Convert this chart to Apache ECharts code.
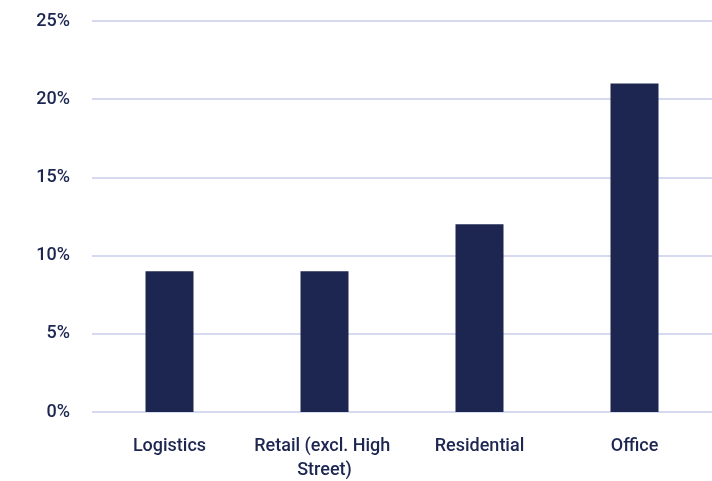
<!DOCTYPE html>
<html>
<head>
<meta charset="utf-8">
<script src="https://cdn.jsdelivr.net/npm/echarts@6/dist/echarts.min.js"></script>
<style>
  html, body { margin: 0; padding: 0; background: #fff; }
  #chart { width: 712px; height: 481px; }
</style>
</head>
<body>
<div id="chart"></div>
<script>
// sectors and share values (%)
var categories = ['Logistics', 'Retail (excl. High Street)', 'Residential', 'Office'];
var values = [9, 9, 12, 21];

var navy = '#1c2651';

var chart = echarts.init(document.getElementById('chart'));
var option = {
    animation: false,
    grid: { left: 92, right: 0, top: 21, bottom: 69, outerBoundsMode: 'none' },
    xAxis: {
        type: 'category',
        data: categories,
        axisLine: { show: false },
        axisTick: { show: false },
        axisLabel: {
            color: navy,
            fontFamily: 'Roboto',
            fontWeight: 500,
            fontSize: 18,
            margin: 22,
            lineHeight: 24,
            width: 150,
            overflow: 'break',
            interval: 0
        }
    },
    yAxis: {
        type: 'value',
        min: 0,
        max: 25,
        interval: 5,
        axisLine: { show: false },
        axisTick: { show: false },
        axisLabel: {
            color: navy,
            fontFamily: 'Roboto',
            fontWeight: 500,
            fontSize: 18,
            margin: 22,
            formatter: '{value}%'
        },
        splitLine: { lineStyle: { color: '#d5daf0', width: 2 } }
    },
    series: [{
        type: 'bar',
        data: values,
        barWidth: 48,
        itemStyle: { color: navy }
    }]
};
chart.setOption(option);
</script>
</body>
</html>
